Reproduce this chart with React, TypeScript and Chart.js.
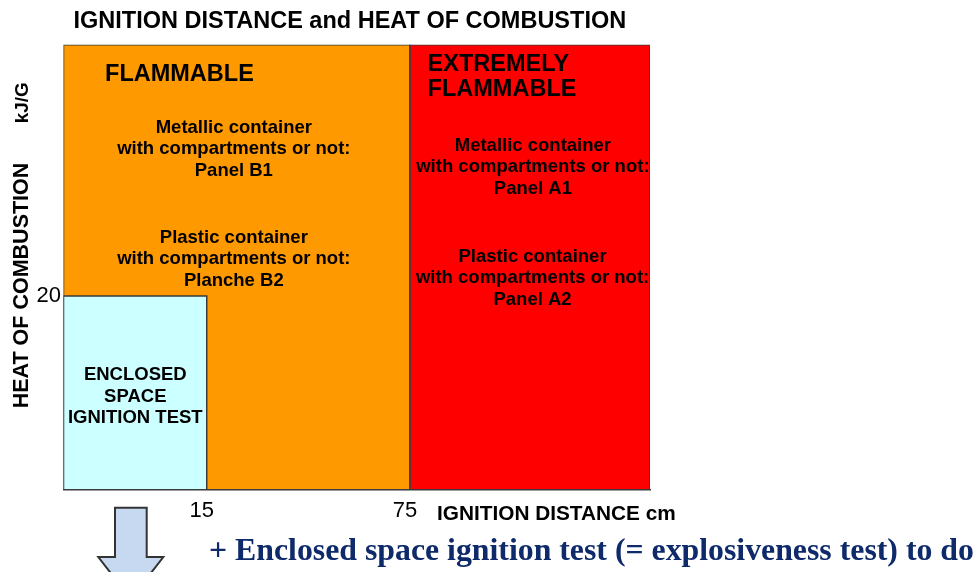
import React, { useEffect, useRef } from "react";
import { Chart, registerables, LinearScale } from "chart.js";

Chart.register(...registerables);

// ---------- data ----------
const X_TICKS = [15, 75];
const Y_TICKS = [20];
const X_MAX = 150;
const Y_MAX = 46;

const ZONE_NAMES = ["Flammable", "Extremely flammable", "Enclosed space ignition test"];
const ZONE_X_FROM = [0, 75, 0];
const ZONE_X_TO = [75, X_MAX, 15];
const ZONE_Y_TO = [Y_MAX, Y_MAX, 20];
const ZONE_COLORS = ["#FF9900", "#FF0000", "#CCFFFF"];

const NOTE_LINES = [
  ["FLAMMABLE"],
  ["Metallic container", "with compartments or not:", "Panel B1"],
  ["Plastic container", "with compartments or not:", "Planche B2"],
  ["EXTREMELY", "FLAMMABLE"],
  ["Metallic container", "with compartments or not:", "Panel A1"],
  ["Plastic container", "with compartments or not:", "Panel A2"],
  ["ENCLOSED", "SPACE", "IGNITION TEST"],
];
const NOTE_X = [4.35, 23, 23, 80.5, 113.4, 113.3, 7.52];
const NOTE_Y = [42.27, 36.89, 25.51, 43.28, 35.03, 23.55, 11.31];
const NOTE_HEADING = [true, false, false, true, false, false, false];

const CHART_TITLE = "IGNITION DISTANCE and HEAT OF COMBUSTION";
const Y_TITLE = "HEAT OF COMBUSTION";
const Y_UNIT = "kJ/G";
const X_TITLE = "IGNITION DISTANCE cm";
const FOOTNOTE = "+ Enclosed space ignition test (= explosiveness test) to do";

// ---------- non-uniform (diagram) x scale ----------
const X_BREAKS = [0, 15, 75, X_MAX];
const X_BREAK_POS = [0, 0.2442, 0.5908, 1];

function toFrac(v: number): number {
  for (let i = 0; i < X_BREAKS.length - 1; i++) {
    const a = X_BREAKS[i], b = X_BREAKS[i + 1];
    if (v <= b || i === X_BREAKS.length - 2) {
      return X_BREAK_POS[i] + ((v - a) / (b - a)) * (X_BREAK_POS[i + 1] - X_BREAK_POS[i]);
    }
  }
  return 1;
}
function fromFrac(t: number): number {
  for (let i = 0; i < X_BREAK_POS.length - 1; i++) {
    const a = X_BREAK_POS[i], b = X_BREAK_POS[i + 1];
    if (t <= b || i === X_BREAK_POS.length - 2) {
      return X_BREAKS[i] + ((t - a) / (b - a)) * (X_BREAKS[i + 1] - X_BREAKS[i]);
    }
  }
  return X_MAX;
}

class BrokenLinearScale extends LinearScale {
  static id = "brokenLinear";
  getPixelForValue(value: number) {
    if (value === null || value === undefined || isNaN(value)) return NaN;
    return this.getPixelForDecimal(toFrac(value));
  }
  getValueForPixel(pixel: number) {
    return fromFrac(this.getDecimalForPixel(pixel));
  }
}
Chart.register(BrokenLinearScale as any);

const SANS = '"Liberation Sans", Arial, sans-serif';
const SERIF = '"Liberation Serif", "Times New Roman", serif';

const overlay = {
  id: "overlay",
  afterDatasetsDraw(chart: any) {
    const { ctx, chartArea, scales } = chart;
    ctx.save();
    ctx.beginPath();
    ctx.rect(chartArea.left, chartArea.top, chartArea.right - chartArea.left, chartArea.bottom - chartArea.top);
    ctx.clip();
    ctx.fillStyle = "#000";
    NOTE_LINES.forEach((lines, i) => {
      const px = scales.x.getPixelForValue(NOTE_X[i]);
      const py = scales.y.getPixelForValue(NOTE_Y[i]);
      const heading = NOTE_HEADING[i];
      ctx.font = heading ? `bold 23.5px ${SANS}` : `bold 18.5px ${SANS}`;
      ctx.textAlign = heading ? "left" : "center";
      ctx.textBaseline = "alphabetic";
      const gap = heading ? 24.7 : 21.7;
      lines.forEach((t, j) => ctx.fillText(t, px, py + j * gap));
    });
    ctx.restore();
  },
  afterDraw(chart: any) {
    const { ctx, chartArea } = chart;
    ctx.save();
    ctx.fillStyle = "#000";
    ctx.textBaseline = "alphabetic";
    // title
    ctx.font = `bold 23.5px ${SANS}`;
    ctx.textAlign = "left";
    ctx.fillText(CHART_TITLE, chartArea.left + 10, 28.3);
    // y title (rotated)
    ctx.save();
    ctx.translate(28.3, 408.3);
    ctx.rotate(-Math.PI / 2);
    ctx.font = `bold 21.5px ${SANS}`;
    ctx.textAlign = "left";
    ctx.fillText(Y_TITLE, 0, 0);
    ctx.restore();
    ctx.save();
    ctx.translate(28.3, 123.3);
    ctx.rotate(-Math.PI / 2);
    ctx.font = `bold 19px ${SANS}`;
    ctx.textAlign = "left";
    ctx.fillText(Y_UNIT, 0, 0);
    ctx.restore();
    // x title
    ctx.font = `bold 20.8px ${SANS}`;
    ctx.textAlign = "left";
    ctx.fillText(X_TITLE, 437, 520);
    // arrow
    ctx.beginPath();
    ctx.moveTo(115, 507.7);
    ctx.lineTo(146.7, 507.7);
    ctx.lineTo(146.7, 557);
    ctx.lineTo(163.3, 557);
    ctx.lineTo(130.8, 599);
    ctx.lineTo(98.3, 557);
    ctx.lineTo(115, 557);
    ctx.closePath();
    ctx.fillStyle = "#C6D9F1";
    ctx.fill();
    ctx.strokeStyle = "#333333";
    ctx.lineWidth = 2;
    ctx.stroke();
    // footnote
    ctx.fillStyle = "#0E2A6A";
    ctx.font = `bold 31.8px ${SERIF}`;
    ctx.textAlign = "left";
    ctx.fillText(FOOTNOTE, 209, 560);
    ctx.restore();
  },
};

export default function App() {
  const ref = useRef<HTMLCanvasElement>(null);
  useEffect(() => {
    if (!ref.current) return;
    const datasets = ZONE_NAMES.map((name, i) => ({
      label: name,
      data: [
        { x: ZONE_X_FROM[i], y: 0 },
        { x: ZONE_X_FROM[i], y: ZONE_Y_TO[i] },
        { x: ZONE_X_TO[i], y: ZONE_Y_TO[i] },
        { x: ZONE_X_TO[i], y: 0 },
      ],
      backgroundColor: ZONE_COLORS[i],
      borderColor: "#3a3a3a",
      borderWidth: 1.5,
      fill: "origin",
      pointRadius: 0,
      pointHoverRadius: 0,
      tension: 0,
      order: ZONE_NAMES.length - i,
    }));
    const chart = new Chart(ref.current, {
      type: "line",
      data: { datasets },
      plugins: [overlay],
      options: {
        animation: false,
        responsive: false,
        devicePixelRatio: 1,
        layout: { padding: { left: 0, top: 44.7, right: 330, bottom: 0 } },
        plugins: { legend: { display: false }, tooltip: { enabled: false }, title: { display: false } },
        events: [],
        scales: {
          x: {
            type: "brokenLinear" as any,
            min: 0,
            max: X_MAX,
            grid: { display: false, drawTicks: false },
            border: { display: true, color: "#3a3a3a", width: 1.5, z: 1 },
            afterBuildTicks: (s: any) => {
              s.ticks = X_TICKS.map((v) => ({ value: v }));
            },
            afterFit: (s: any) => {
              s.height = 82.7;
            },
            ticks: {
              autoSkip: false,
              maxRotation: 0,
              padding: 8,
              labelOffset: -5,
              color: "#000",
              font: { family: SANS, size: 22 },
            },
          },
          y: {
            type: "linear",
            min: 0,
            max: Y_MAX,
            grid: { display: false, drawTicks: false },
            border: { display: false },
            afterBuildTicks: (s: any) => {
              s.ticks = Y_TICKS.map((v) => ({ value: v }));
            },
            afterFit: (s: any) => {
              s.width = 63.5;
            },
            ticks: {
              autoSkip: false,
              padding: 2.5,
              color: "#000",
              font: { family: SANS, size: 22 },
            },
          },
        },
      } as any,
    });
    return () => chart.destroy();
  }, []);
  return (
    <div style={{ position: "fixed", left: 0, top: 0, width: 980, height: 572, background: "#fff" }}>
      <canvas ref={ref} width={980} height={572} style={{ display: "block", width: 980, height: 572 }} />
    </div>
  );
}
